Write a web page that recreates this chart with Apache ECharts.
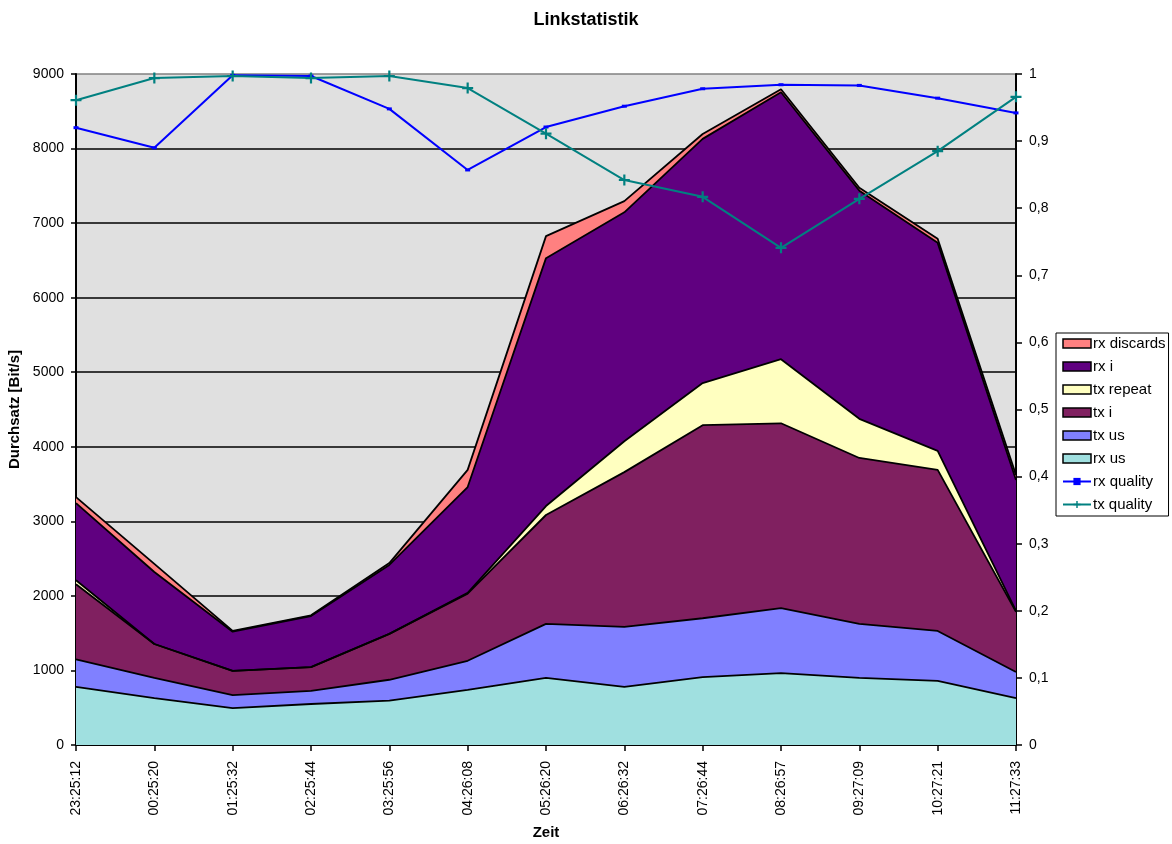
<!DOCTYPE html>
<html>
<head>
<meta charset="utf-8">
<title>Linkstatistik</title>
<script src="https://cdn.jsdelivr.net/npm/echarts@6/dist/echarts.min.js"></script>
<style>
  html, body { margin: 0; padding: 0; background: #fff; }
  #chart { width: 1172px; height: 844px; }
</style>
</head>
<body>
<div id="chart"></div>
<script>
var times = ['23:25:12', '00:25:20', '01:25:32', '02:25:44', '03:25:56', '04:26:08', '05:26:20',
  '06:26:32', '07:26:44', '08:26:57', '09:27:09', '10:27:21', '11:27:33']

// stacked throughput, bottom to top
var rxUs = [780, 630, 495, 550, 595, 740, 900, 780, 910, 965, 900, 860, 630]
var txUs = [370, 270, 175, 175, 280, 390, 725, 805, 790, 870, 725, 670, 350]
var txI = [1005, 455, 325, 320, 615, 900, 1460, 2075, 2590, 2480, 2225, 2160, 805]
var txRepeat = [55, 0, 0, 0, 0, 10, 120, 415, 565, 860, 525, 255, 15]
var rxI = [1035, 965, 525, 685, 925, 1420, 3325, 3070, 3275, 3580, 3060, 2790, 1755]
var rxDiscards = [80, 110, 10, 10, 25, 230, 295, 150, 65, 40, 40, 55, 65]

// link quality, right axis
var rxQuality = [0.92, 0.89, 0.998, 0.997, 0.948, 0.857, 0.921, 0.952, 0.978, 0.984, 0.983, 0.964, 0.942]
var txQuality = [0.961, 0.994, 0.997, 0.994, 0.997, 0.979, 0.911, 0.842, 0.817, 0.741, 0.814, 0.885, 0.966]

var font = 'Liberation Sans, Arial, sans-serif'

function area (name, data, color) {
  return {
    name: name,
    type: 'line',
    stack: 'total',
    data: data,
    symbol: 'none',
    itemStyle: {color: color},
    lineStyle: {color: '#000', width: 1.8},
    areaStyle: {color: color, opacity: 1},
    emphasis: {disabled: true}
  }
}

function legendRect (name, color) {
  return {name: name, icon: 'rect', itemStyle: {color: color, borderColor: '#000', borderWidth: 1.5}}
}

var chart = echarts.init(document.getElementById('chart'))

var option = {
  backgroundColor: '#fff',
  animation: false,
  textStyle: {fontFamily: font, color: '#000'},
  title: {
    text: 'Linkstatistik',
    left: 'center',
    top: 6,
    textStyle: {fontFamily: font, fontSize: 18, fontWeight: 'bold', color: '#000'}
  },
  legend: {
    orient: 'vertical',
    left: 1056,
    top: 333,
    padding: [3, 3, 4, 6],
    itemGap: 8,
    itemWidth: 28,
    itemHeight: 9,
    borderColor: '#000',
    borderWidth: 1,
    textStyle: {fontFamily: font, fontSize: 15, color: '#000', padding: [0, 0, 0, -3]},
    data: [
      legendRect('rx discards', '#ff8080'),
      legendRect('rx i', '#600080'),
      legendRect('tx repeat', '#ffffc0'),
      legendRect('tx i', '#802060'),
      legendRect('tx us', '#8080ff'),
      legendRect('rx us', '#a0e0e0'),
      {name: 'rx quality'},
      {name: 'tx quality'}
    ]
  },
  grid: {
    left: 76,
    right: 156,
    top: 74,
    bottom: 99,
    outerBoundsMode: 'none',
    show: true,
    backgroundColor: '#e0e0e0',
    borderWidth: 0
  },
  xAxis: {
    type: 'category',
    data: times,
    boundaryGap: false,
    name: 'Zeit',
    nameLocation: 'middle',
    nameGap: 80,
    nameTextStyle: {fontFamily: font, fontSize: 15, fontWeight: 'bold', color: '#000'},
    axisLine: {lineStyle: {color: '#000', width: 2}},
    axisTick: {show: true, length: 6, lineStyle: {color: '#000', width: 1.5}},
    axisLabel: {rotate: 90, fontFamily: font, fontSize: 14, color: '#000', margin: 16},
    splitLine: {show: false}
  },
  yAxis: [
    {
      type: 'value',
      min: 0,
      max: 9000,
      interval: 1000,
      name: 'Durchsatz [Bit/s]',
      nameLocation: 'middle',
      nameGap: 50,
      nameTextStyle: {fontFamily: font, fontSize: 15, fontWeight: 'bold', color: '#000'},
      axisLine: {show: true, lineStyle: {color: '#000', width: 2}},
      axisTick: {show: true, length: 5, lineStyle: {color: '#000', width: 1.5}},
      axisLabel: {
        fontFamily: font,
        fontSize: 14,
        color: '#000',
        margin: 12,
        formatter: function (v) { return String(v) }
      },
      splitLine: {
        show: true,
        lineStyle: {
          color: ['#000', '#000', '#000', '#000', '#000', '#000', '#000', '#000', '#000', '#808080'],
          width: 1.5
        }
      }
    },
    {
      type: 'value',
      min: 0,
      max: 1,
      interval: 0.1,
      position: 'right',
      axisLine: {show: true, lineStyle: {color: '#000', width: 2}},
      axisTick: {show: true, length: 6, lineStyle: {color: '#000', width: 1.5}},
      axisLabel: {
        fontFamily: font,
        fontSize: 14,
        color: '#000',
        margin: 13,
        formatter: function (v) {
          if (v === 0) return '0'
          if (v === 1) return '1'
          return v.toFixed(1).replace('.', ',')
        }
      },
      splitLine: {show: false}
    }
  ],
  series: [
    area('rx us', rxUs, '#a0e0e0'),
    area('tx us', txUs, '#8080ff'),
    area('tx i', txI, '#802060'),
    area('tx repeat', txRepeat, '#ffffc0'),
    area('rx i', rxI, '#600080'),
    area('rx discards', rxDiscards, '#ff8080'),
    {
      name: 'rx quality',
      type: 'line',
      yAxisIndex: 1,
      data: rxQuality,
      symbol: 'rect',
      symbolSize: [5, 3],
      itemStyle: {color: '#0000ff'},
      lineStyle: {color: '#0000ff', width: 2},
      emphasis: {disabled: true}
    },
    {
      name: 'tx quality',
      type: 'line',
      yAxisIndex: 1,
      data: txQuality,
      symbol: 'path://M4,0h2v4h4v2h-4v4h-2v-4h-4v-2h4z',
      symbolSize: 11,
      itemStyle: {color: '#008080'},
      lineStyle: {color: '#008080', width: 2},
      emphasis: {disabled: true}
    }
  ]
}

chart.setOption(option)
</script>
</body>
</html>
